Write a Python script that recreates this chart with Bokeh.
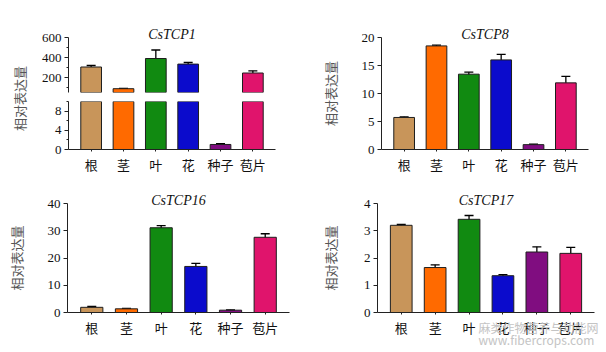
from math import pi
from bokeh.plotting import figure
from bokeh.models import (ColumnDataSource, FactorRange, Range1d, Whisker, TeeHead,
                          FixedTicker, Label, Title)
from bokeh.layouts import row, column
from bokeh.embed import file_html
from bokeh.resources import INLINE

# ---------------- data ----------------
categories = ["根", "茎", "叶", "花", "种子", "苞片"]
bar_colors = ["#C8955A", "#FF6A00", "#118A11", "#0B0BCC", "#800D80", "#E0146C"]
y_label = "相对表达量"

tcp1_name = "CsTCP1"
tcp1_mean = [305, 88, 390, 334, 1.05, 245]
tcp1_err = [15, 4, 85, 16, 0.15, 22]
tcp1_upper_ticks = [200, 400, 600]
tcp1_upper_minor = [100, 300, 500]
tcp1_lower_ticks = [0, 4, 8]
tcp1_lower_minor = [2, 6, 10]

tcp8_name = "CsTCP8"
tcp8_mean = [5.72, 18.5, 13.45, 16.0, 0.87, 11.9]
tcp8_err = [0.12, 0.15, 0.35, 1.0, 0.1, 1.15]
tcp8_ticks = [0, 5, 10, 15, 20]

tcp16_name = "CsTCP16"
tcp16_mean = [1.9, 1.35, 31.1, 16.9, 0.85, 27.6]
tcp16_err = [0.3, 0.15, 0.8, 1.1, 0.15, 1.3]
tcp16_ticks = [0, 10, 20, 30, 40]

tcp17_name = "CsTCP17"
tcp17_mean = [3.2, 1.65, 3.42, 1.35, 2.22, 2.17]
tcp17_err = [0.03, 0.1, 0.14, 0.04, 0.19, 0.22]
tcp17_ticks = [0, 1, 2, 3, 4]

watermark_text = "麻类作物营养与功能网\nwww.fibercrops.com"

SERIF = "Liberation Serif"
CJK = "Noto Sans CJK SC"


def sources(means, errs, lo_lim, hi_lim):
    bar_keep = [i for i, m in enumerate(means) if m >= lo_lim]
    bars = ColumnDataSource(dict(cat=[categories[i] for i in bar_keep],
                                 val=[means[i] for i in bar_keep],
                                 color=[bar_colors[i] for i in bar_keep]))
    keep = [i for i, m in enumerate(means) if lo_lim <= m <= hi_lim]
    whisk = ColumnDataSource(dict(
        cat=[categories[i] for i in keep],
        hi=[means[i] + errs[i] for i in keep],
        lo=[means[i] - errs[i] for i in keep]))
    return bars, whisk


def make_fig(w, h, bl, br, bt, bb, y0, y1, means, errs, ticks, minor=None,
             title=None, title_offset=0, show_x=True, ylab=None, ylab_standoff=0,
             pad=0.2):
    p = figure(width=w, height=h,
               x_range=FactorRange(factors=categories, range_padding=pad,
                                   range_padding_units="absolute"),
               y_range=Range1d(y0, y1), output_backend="svg", toolbar_location=None,
               min_border_left=bl, min_border_right=br, min_border_top=bt,
               min_border_bottom=bb)
    p.outline_line_color = None
    p.xgrid.visible = False
    p.ygrid.visible = False
    p.background_fill_color = "white"
    p.border_fill_color = "white"

    bars, whisk = sources(means, errs, y0, y1)
    p.vbar(x="cat", top="val", bottom=0, width=0.64, fill_color="color",
           line_color="#1e1e1e", line_width=1, source=bars)
    p.add_layout(Whisker(base="cat", upper="hi", lower="lo", source=whisk,
                         line_color="black", line_width=1.3,
                         upper_head=TeeHead(size=9, line_width=1.3, line_color="black"),
                         lower_head=TeeHead(size=9, line_width=1.3, line_color="black")))

    ya = p.yaxis[0]
    ya.ticker = FixedTicker(ticks=ticks, minor_ticks=minor or [])
    ya.major_label_text_font = SERIF
    ya.major_label_text_font_size = "13px"
    ya.major_label_text_color = "#111111"
    ya.major_label_standoff = 3
    ya.major_tick_out = 4
    ya.major_tick_in = 0
    ya.minor_tick_out = 2
    ya.minor_tick_in = 0
    ya.axis_line_color = "#222222"
    ya.major_tick_line_color = "#222222"
    ya.minor_tick_line_color = "#222222"
    if ylab:
        ya.axis_label = ylab
        ya.axis_label_text_font = CJK
        ya.axis_label_text_font_size = "13px"
        ya.axis_label_text_font_style = "normal"
        ya.axis_label_text_color = "#555555"
        ya.axis_label_standoff = ylab_standoff

    xa = p.xaxis[0]
    if show_x:
        xa.major_label_text_font = CJK
        xa.major_label_text_font_size = "13px"
        xa.major_label_text_color = "#111111"
        xa.major_label_standoff = 3
        xa.major_tick_out = 2
        xa.major_tick_in = 0
        xa.axis_line_color = "#222222"
        xa.major_tick_line_color = "#222222"
    else:
        xa.visible = False

    if title:
        p.title.text = title
        p.title.align = "center"
        p.title.text_font = SERIF
        p.title.text_font_style = "italic"
        p.title.text_font_size = "14px"
        p.title.text_color = "#111111"
        p.title.standoff = -8
        p.title.offset = title_offset
    return p


# ---------- panel 1 (broken axis) ----------
lab1 = figure(width=36, height=176, x_range=Range1d(0, 36), y_range=Range1d(0, 176),
              output_backend="svg", toolbar_location=None,
              min_border_left=0, min_border_right=0, min_border_top=0, min_border_bottom=0)
lab1.axis.visible = False
lab1.grid.visible = False
lab1.outline_line_color = None
lab1.add_layout(Label(x=19, y=80, text=y_label,
                      angle=pi / 2, text_align="center", text_baseline="middle",
                      text_font=CJK, text_font_size="13px", text_color="#555555"))

p1u = make_fig(267, 101, 32, 28, 37, 9, 50, 600, tcp1_mean, tcp1_err,
               tcp1_upper_ticks, tcp1_upper_minor, title=tcp1_name, title_offset=5,
               show_x=False)
p1l = make_fig(267, 75, 32, 28, 0, 21, 0, 10, tcp1_mean, tcp1_err,
               tcp1_lower_ticks, tcp1_lower_minor)

# ---------- panel 2 ----------
p2 = make_fig(303, 176, 78, 18, 37, 23, 0, 20, tcp8_mean, tcp8_err, tcp8_ticks,
              title=tcp8_name, title_offset=-6, ylab=y_label, ylab_standoff=19)

# ---------- panel 3 ----------
p3 = make_fig(303, 176, 67, 14, 24, 40, 0, 40, tcp16_mean, tcp16_err, tcp16_ticks,
              title=tcp16_name, title_offset=3, ylab=y_label, ylab_standoff=19)

# ---------- panel 4 ----------
p4 = make_fig(303, 176, 74, 12, 27, 40, 0, 4, tcp17_mean, tcp17_err, tcp17_ticks,
              title=tcp17_name, title_offset=2, ylab=y_label, ylab_standoff=21)
p4.add_layout(Title(text=watermark_text, align="right", vertical_align="top",
                    text_font=CJK, text_font_size="12px", text_font_style="normal",
                    text_line_height=0.75, text_color="#c4c4c4", standoff=-42,
                    offset=-4), "below")

layout = column(row(lab1, column(p1u, p1l), p2), row(p3, p4))

open("out.html", "w").write(file_html(layout, INLINE))
